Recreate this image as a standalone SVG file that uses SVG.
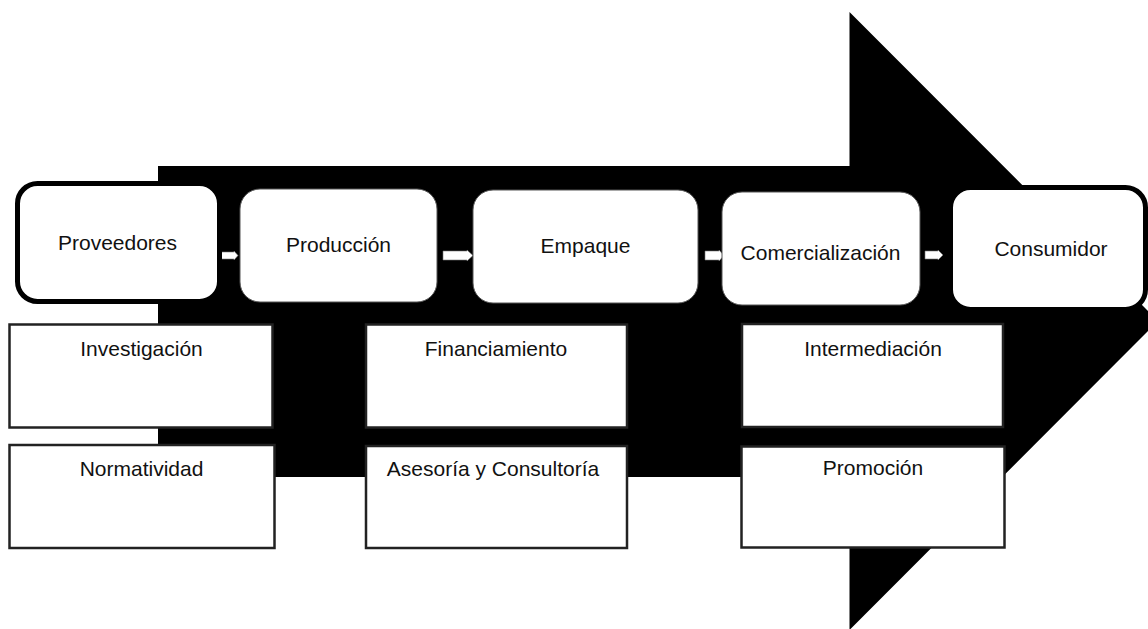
<svg xmlns="http://www.w3.org/2000/svg" width="1148" height="629" viewBox="0 0 1148 629">
  <style>
    .lbl { font-family: "Liberation Sans", Arial, sans-serif; font-size: 21px; fill: #111; text-anchor: middle; }
    .step { fill: #fff; stroke: #555; stroke-width: 1; }
    .step-thick { fill: #fff; stroke: #000; stroke-width: 5; }
    .box { fill: #fff; stroke: #222; stroke-width: 2.5; }
    .flow { fill: #fff; stroke: #777; stroke-width: 0.6; }
  </style>
  <rect width="1148" height="629" fill="#fff"/>
  <g id="big-arrow">
    <polygon points="158,166 849.5,166 849.5,12 1158,321 849.5,630 849.5,477 158,477" fill="#000"/>
  </g>
  <g id="connectors">
    <polygon class="flow" points="221,252 234,252 234,251 238,255.5 234,260 234,259 221,259"/>
    <polygon class="flow" points="443,251 467,251 467,250 473,255.5 467,261 467,260 443,260"/>
    <polygon class="flow" points="705,251 719,251 719,250 724,255.5 719,261 719,260 705,260"/>
    <polygon class="flow" points="925,251 938,251 938,250 943,255 938,260 938,259 925,259"/>
  </g>
  <g id="proveedores">
    <rect class="step-thick" x="17.5" y="183.5" width="202" height="118" rx="20"/>
    <text class="lbl" x="117.5" y="250">Proveedores</text>
  </g>
  <g id="produccion">
    <rect class="step" x="240" y="189" width="197" height="113" rx="20"/>
    <text class="lbl" x="338.5" y="252">Producción</text>
  </g>
  <g id="empaque">
    <rect class="step" x="473" y="190" width="225" height="113" rx="20"/>
    <text class="lbl" x="585.5" y="253">Empaque</text>
  </g>
  <g id="comercializacion">
    <rect class="step" x="722" y="192" width="198" height="113" rx="20"/>
    <text class="lbl" x="820.5" y="260">Comercialización</text>
  </g>
  <g id="consumidor">
    <rect class="step-thick" x="950.5" y="187.5" width="195" height="122" rx="20"/>
    <text class="lbl" x="1051" y="256">Consumidor</text>
  </g>
  <g id="investigacion">
    <rect class="box" x="9.5" y="324.5" width="263" height="103"/>
    <text class="lbl" x="141.5" y="356">Investigación</text>
  </g>
  <g id="normatividad">
    <rect class="box" x="9.5" y="445" width="265" height="103"/>
    <text class="lbl" x="141.5" y="476">Normatividad</text>
  </g>
  <g id="financiamiento">
    <rect class="box" x="366" y="324.5" width="261" height="103"/>
    <text class="lbl" x="496" y="356">Financiamiento</text>
  </g>
  <g id="asesoria">
    <rect class="box" x="366" y="446" width="261" height="102"/>
    <text class="lbl" x="493" y="476">Asesoría y Consultoría</text>
  </g>
  <g id="intermediacion">
    <rect class="box" x="742" y="324" width="261" height="103"/>
    <text class="lbl" x="873" y="356">Intermediación</text>
  </g>
  <g id="promocion">
    <rect class="box" x="741.5" y="446.5" width="263" height="101"/>
    <text class="lbl" x="873" y="475">Promoción</text>
  </g>
</svg>
